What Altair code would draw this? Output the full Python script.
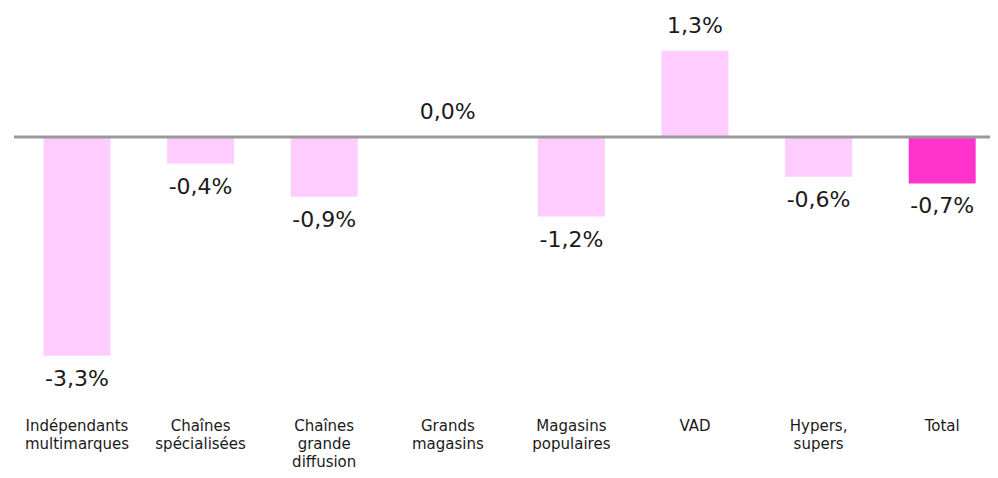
import altair as alt
import pandas as pd

categories = [
    "Indépendants|multimarques",
    "Chaînes|spécialisées",
    "Chaînes|grande|diffusion",
    "Grands|magasins",
    "Magasins|populaires",
    "VAD",
    "Hypers,|supers",
    "Total",
]
values = [-3.3, -0.4, -0.9, 0.0, -1.2, 1.3, -0.6, -0.7]
labels = [f"{v:.1f}".replace(".", ",") + "%" for v in values]

df = pd.DataFrame({
    "cat": categories,
    "idx": list(range(len(categories))),
    "v": values,
    "lab": labels,
})

W = 975
H = 410
STEP = 123.6
d0 = -62 / STEP
d1 = d0 + W / STEP
xscale = alt.Scale(domain=[d0, d1], nice=False, zero=False)
yscale = alt.Scale(domain=[-4.238, 1.946], nice=False, zero=False)

base = alt.Chart(df).transform_calculate(
    x0="datum.idx - 0.271", x1="datum.idx + 0.271"
)

x = alt.X("idx:Q", scale=xscale, axis=None)
y = alt.Y("v:Q", scale=yscale, axis=None)

bars = base.mark_bar().encode(
    x=alt.X("x0:Q", scale=xscale, axis=None),
    x2="x1:Q",
    y=y,
    y2=alt.datum(0),
    color=alt.condition(
        alt.datum.cat == "Total", alt.value("#ff33cc"), alt.value("#ffccff")
    ),
)

pos_text = base.transform_filter("datum.v >= 0").mark_text(
    baseline="bottom", dy=-13, font="DejaVu Sans", fontSize=22, color="#1a1a1a"
).encode(x=x, y=y, text="lab:N")

neg_text = base.transform_filter("datum.v < 0").mark_text(
    baseline="top", dy=13, font="DejaVu Sans", fontSize=22, color="#1a1a1a"
).encode(x=x, y=y, text="lab:N")

cat_text = base.mark_text(
    baseline="top", align="center", lineBreak="|", lineHeight=18,
    font="DejaVu Sans", fontSize=15, color="#1a1a1a"
).encode(x=x, y=alt.value(H + 1), text="cat:N")

zero = alt.Chart(pd.DataFrame({"z": [0]})).mark_rule(
    color="#999999", strokeWidth=3
).encode(y=alt.Y("z:Q", scale=yscale, axis=None), x=alt.value(-1), x2=alt.value(W))

chart = (
    alt.layer(bars, zero, pos_text, neg_text, cat_text)
    .properties(
        width=W,
        height=H,
        background="white",
        autosize=alt.AutoSizeParams(type="none"),
        padding={"left": 7, "top": 0, "right": 0, "bottom": 52},
    )
    .configure_view(stroke="transparent", strokeWidth=0)
)

chart.save("out.html", embed_options={"renderer": "svg", "actions": False})
